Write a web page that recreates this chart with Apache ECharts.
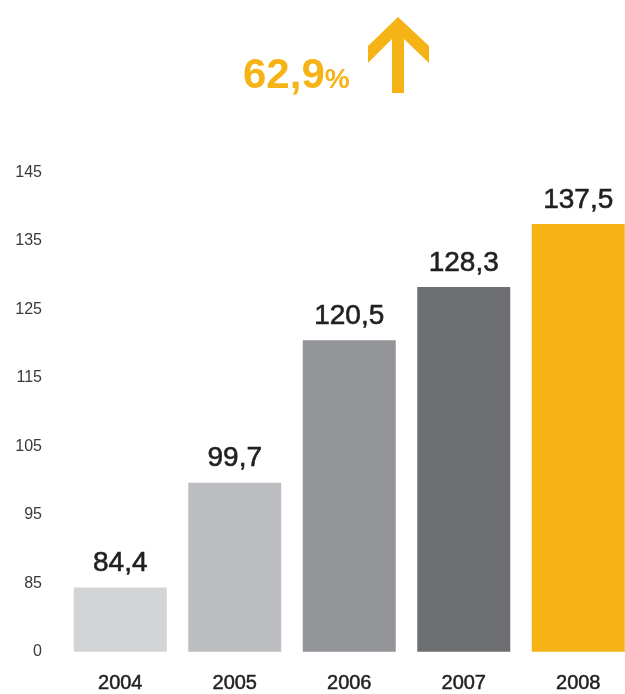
<!DOCTYPE html>
<html>
<head>
<meta charset="utf-8">
<script src="https://cdn.jsdelivr.net/npm/echarts@6/dist/echarts.min.js"></script>
<style>
html,body{margin:0;padding:0;background:#fff;overflow:hidden;width:625px;height:694px;}
#c{width:636px;height:694px;}
</style>
</head>
<body>
<div id="c"></div>
<script>
const categories = ['2004', '2005', '2006', '2007', '2008'];
const values = [84.4, 99.7, 120.5, 128.3, 137.5];
const barColors = ['#d3d4d6', '#bdbec1', '#939598', '#6d6e71', '#f5b316'];
const axisMin = 75, axisMax = 145, axisStep = 10;
const growthText = '62,9';

const chart = echarts.init(document.getElementById('c'), null, {renderer: 'canvas'});
const font = '"Liberation Sans", Arial, Helvetica, sans-serif';
chart.setOption({
  animation: false,
  backgroundColor: '#fff',
  grid: {left: 63, top: 172.6, width: 572.5, height: 480, containLabel: false},
  xAxis: {
    type: 'category',
    data: categories,
    axisLine: {show: false},
    axisTick: {show: false},
    axisLabel: {color: '#231f20', fontSize: 20, fontFamily: font, margin: 22,
      textBorderColor: '#231f20', textBorderWidth: 0.5}
  },
  yAxis: {
    type: 'value',
    min: axisMin, max: axisMax, interval: axisStep,
    splitLine: {show: false},
    axisLine: {show: false},
    axisTick: {show: false},
    axisLabel: {
      color: '#3a3a3a', fontSize: 16, fontFamily: font, margin: 21,
      padding: [0, 0, 5, 0],
      formatter: v => (v === axisMin ? '0' : String(v))
    }
  },
  series: [{
    type: 'bar',
    barWidth: 93,
    data: values.map((v, i) => ({value: v, itemStyle: {color: barColors[i]}})),
    label: {
      show: true, position: 'top', distance: 10,
      color: '#231f20', fontSize: 28, fontFamily: font,
      textBorderColor: '#231f20', textBorderWidth: 0.6,
      formatter: p => String(p.value).replace('.', ',')
    }
  }],
  graphic: [
    {
      type: 'text', left: 243, top: 55,
      style: {
        text: '{a|' + growthText + '}{b|%}',
        rich: {
          a: {fontSize: 42, fontWeight: 'bold', fill: '#f5b316', fontFamily: font},
          b: {fontSize: 28, fontWeight: 'bold', fill: '#f5b316', fontFamily: font, padding: [8, 0, 0, 0]}
        }
      }
    },
    {
      type: 'polygon',
      shape: {points: [[398, 17], [429, 46], [429, 63], [404, 39], [404, 93], [392, 93], [392, 39], [368, 63], [368, 46]]},
      style: {fill: '#f5b316'}
    }
  ]
});
</script>
</body>
</html>
